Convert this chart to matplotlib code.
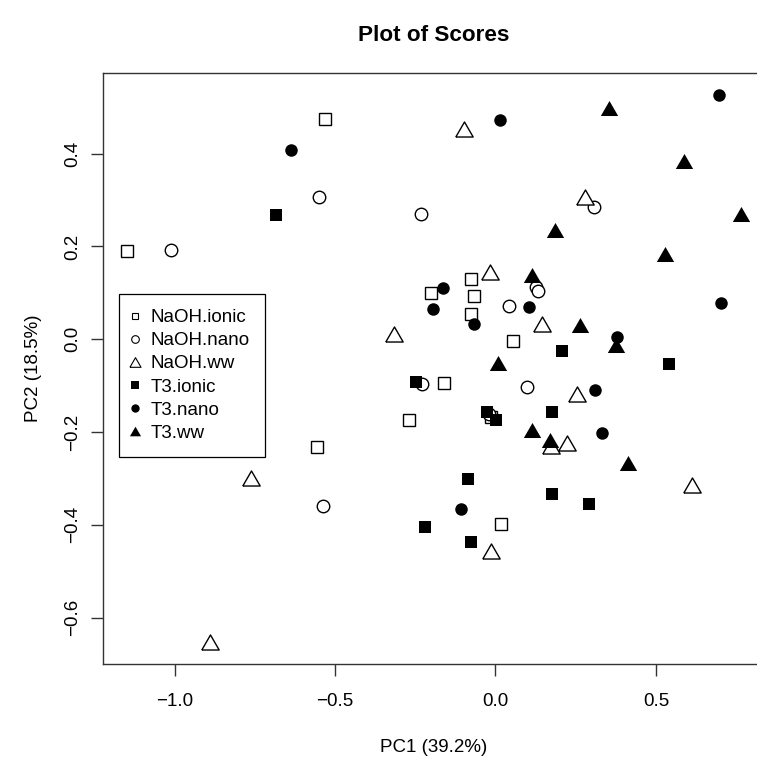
import numpy as np
import matplotlib
matplotlib.use("Agg")
import matplotlib.pyplot as plt
from matplotlib.lines import Line2D

plt.rcParams['font.family'] = ['Liberation Sans', 'DejaVu Sans']

# PCA scores
naoh_ionic_x = [-0.531, -1.148, -0.201, -0.077, -0.067, -0.075, 0.054, -0.160, -0.269, -0.555, -0.015, 0.017]
naoh_ionic_y = [0.474, 0.189, 0.099, 0.129, 0.093, 0.054, -0.005, -0.095, -0.174, -0.232, -0.167, -0.399]

naoh_nano_x = [-0.549, -0.233, -1.012, 0.125, 0.132, 0.042, 0.308, -0.230, 0.097, -0.537, -0.020]
naoh_nano_y = [0.306, 0.270, 0.192, 0.113, 0.103, 0.072, 0.285, -0.096, -0.104, -0.359, -0.162]

naoh_ww_x = [-0.098, 0.279, -0.017, -0.316, 0.145, 0.255, 0.174, 0.222, 0.612, -0.763, -0.014, -0.890]
naoh_ww_y = [0.452, 0.306, 0.145, 0.011, 0.033, -0.118, -0.231, -0.224, -0.314, -0.300, -0.456, -0.652]

t3_ionic_x = [-0.683, -0.247, -0.026, 0.002, 0.177, 0.206, 0.542, -0.085, 0.177, 0.292, -0.075, -0.219]
t3_ionic_y = [0.268, -0.092, -0.158, -0.174, -0.158, -0.025, -0.054, -0.302, -0.334, -0.356, -0.438, -0.405]

t3_nano_x = [-0.638, 0.015, 0.696, -0.164, -0.196, -0.067, 0.105, 0.380, 0.704, 0.310, 0.331, -0.108]
t3_nano_y = [0.408, 0.472, 0.526, 0.110, 0.064, 0.033, 0.070, 0.005, 0.079, -0.109, -0.203, -0.366]

t3_ww_x = [0.354, 0.588, 0.764, 0.186, 0.529, 0.113, 0.263, 0.376, 0.009, 0.113, 0.170, 0.414]
t3_ww_y = [0.498, 0.385, 0.270, 0.235, 0.184, 0.138, 0.031, -0.013, -0.051, -0.196, -0.217, -0.267]

labels = ["NaOH.ionic", "NaOH.nano", "NaOH.ww", "T3.ionic", "T3.nano", "T3.ww"]

# R style triangle (equilateral, centred on its box)
tri = [(-1, -0.866), (1, -0.866), (0, 0.866), (-1, -0.866)]

W, H = 757, 760
fig = plt.figure(figsize=(W / 100, H / 100), dpi=100)
# axes box goes slightly past the right edge (reference is cropped there)
ax = fig.add_axes([102.7 / W, (H - 663.5) / H, 662.4 / W, 590.2 / H])

# (x, y, marker, filled, plot size, legend size)
groups = [
    (naoh_ionic_x, naoh_ionic_y, 's', False, 8.0, 5.0),
    (naoh_nano_x, naoh_nano_y, 'o', False, 9.0, 5.5),
    (naoh_ww_x, naoh_ww_y, tri, False, 12.5, 8.0),
    (t3_ionic_x, t3_ionic_y, 's', True, 9.3, 6.3),
    (t3_nano_x, t3_nano_y, 'o', True, 9.0, 6.0),
    (t3_ww_x, t3_ww_y, tri, True, 12.5, 8.0),
]

handles = []
for (gx, gy, mk, filled, ms, lms), lab in zip(groups, labels):
    fc = 'black' if filled else 'white'
    ew = 0 if filled else 1.0
    ax.plot(gx, gy, linestyle='none', marker=mk, ms=ms, mfc=fc, mec='black', mew=ew)
    handles.append(Line2D([], [], linestyle='none', marker=mk, ms=lms, mfc=fc, mec='black', mew=0 if filled else 0.8))

# R style axis range: data range plus 4 percent on each side
allx = np.concatenate([g[0] for g in groups])
ally = np.concatenate([g[1] for g in groups])
px = 0.04 * (allx.max() - allx.min())
py = 0.04 * (ally.max() - ally.min())
ax.set_xlim(allx.min() - px, allx.max() + px)
ax.set_ylim(ally.min() - py, ally.max() + py)

ax.set_xticks([-1.0, -0.5, 0.0, 0.5])
ax.set_xticklabels(['\u22121.0', '\u22120.5', '0.0', '0.5'])
ax.set_yticks([-0.6, -0.4, -0.2, 0.0, 0.2, 0.4])
ax.set_yticklabels(['\u22120.6', '\u22120.4', '\u22120.2', '0.0', '0.2', '0.4'])
ax.tick_params(axis='both', direction='out', length=8.6, width=1.0, labelsize=13.5, color='#333333')
ax.tick_params(axis='x', pad=13)
ax.tick_params(axis='y', pad=7)
for t in ax.get_yticklabels():
    t.set_rotation(90)
    t.set_va('center')
for s in ax.spines.values():
    s.set_linewidth(1.0)
    s.set_color('#333333')

ax.set_xlabel("PC1 (39.2%)", fontsize=13.5)
ax.set_ylabel("PC2 (18.5%)", fontsize=13.5)
ax.xaxis.set_label_coords(0.5, -0.1274)
ax.yaxis.set_label_coords(-0.0921, 0.5)
ax.set_title("Plot of Scores", fontsize=16.2, fontweight='bold', pad=23)

leg = ax.legend(handles, labels, loc='upper left', bbox_to_anchor=(119 / W, 1 - 294 / H),
                bbox_transform=fig.transFigure, borderaxespad=0, fontsize=13.5,
                frameon=True, fancybox=False, framealpha=1, edgecolor='black',
                borderpad=0.8, handlelength=0.15, handletextpad=0.75, labelspacing=0.32)
leg.get_frame().set_linewidth(0.9)

fig.savefig("out.png", dpi=100)
